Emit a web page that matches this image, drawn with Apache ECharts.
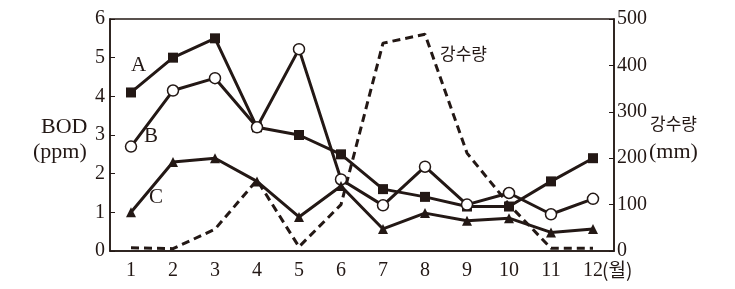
<!DOCTYPE html>
<html><head><meta charset="utf-8">
<script src="https://cdn.jsdelivr.net/npm/echarts@6/dist/echarts.min.js"></script>
<style>html,body{margin:0;padding:0;background:#fff}#c{width:735px;height:289px}</style>
</head><body><div id="c"></div>
<script>
const months = ['1','2','3','4','5','6','7','8','9','10','11','12'];
const seriesA = [4.1, 5.0, 5.5, 3.2, 3.0, 2.5, 1.6, 1.4, 1.15, 1.15, 1.8, 2.4];
const seriesB = [2.7, 4.15, 4.47, 3.2, 5.22, 1.85, 1.18, 2.18, 1.2, 1.5, 0.95, 1.35];
const seriesC = [1.0, 2.3, 2.4, 1.8, 0.88, 1.68, 0.57, 0.98, 0.78, 0.85, 0.48, 0.57];
const rainfall = [7, 5, 47, 153, 9, 100, 448, 467, 211, 100, 6, 6];
const bodTicks = [0, 1, 2, 3, 4, 5, 6];
const rainTicks = [0, 100, 200, 300, 400, 500];

const ink = '#231815';
const serif = '"Liberation Serif","DejaVu Serif",serif';
const kor = '"Noto Sans CJK KR","Noto Sans",sans-serif';
const chart = echarts.init(document.getElementById('c'));
const lineS = (name, data, symbol, size, fill) => ({
  name, type: 'line', data, yAxisIndex: 0, symbol, symbolSize: size,
  showAllSymbol: true, z: 3,
  lineStyle: { color: ink, width: 3 },
  itemStyle: { color: fill, borderColor: ink, borderWidth: fill === '#fff' ? 1.5 : 0 }
});
chart.setOption({
  animation: false,
  grid: { left: 110, right: 121, top: 19, bottom: 38, show: true, borderColor: ink, borderWidth: 1.5 },
  xAxis: {
    type: 'category', data: months, boundaryGap: true,
    axisLine: { lineStyle: { color: ink, width: 1.5 } },
    axisTick: { inside: true, length: 5, lineStyle: { color: ink, width: 1.2 } },
    axisLabel: { color: ink, fontFamily: serif, fontSize: 20, margin: 10 }
  },
  yAxis: [
    { type: 'value', min: bodTicks[0], max: bodTicks[bodTicks.length-1], interval: 1,
      splitLine: { show: false },
      axisLine: { show: true, lineStyle: { color: ink, width: 1.5 } },
      axisTick: { show: true, inside: true, length: 5, lineStyle: { color: ink } },
      axisLabel: { color: ink, fontFamily: serif, fontSize: 20, margin: 5 } },
    { type: 'value', min: rainTicks[0], max: rainTicks[rainTicks.length-1], interval: 100, position: 'right',
      splitLine: { show: false },
      axisLine: { show: true, lineStyle: { color: ink, width: 1.5 } },
      axisTick: { show: true, inside: true, length: 5, lineStyle: { color: ink } },
      axisLabel: { color: ink, fontFamily: serif, fontSize: 20, margin: 3 } }
  ],
  series: [
    { name: '강수량', type: 'line', data: rainfall, yAxisIndex: 1, symbol: 'none', z: 2,
      lineStyle: { color: ink, width: 3, type: [8, 5] } },
    lineS('A', seriesA, 'rect', 10, ink),
    lineS('B', seriesB, 'circle', 11, '#fff'),
    lineS('C', seriesC, 'triangle', 10, ink)
  ],
  graphic: [
    { type: 'text', left: 131, top: 55, style: { text: 'A', font: '21px ' + serif, fill: ink } },
    { type: 'text', left: 144, top: 126, style: { text: 'B', font: '21px ' + serif, fill: ink } },
    { type: 'text', left: 149, top: 187, style: { text: 'C', font: '21px ' + serif, fill: ink } },
    { type: 'text', left: 440, top: 45, style: { text: '강수량', font: '17px ' + kor, fill: ink } },
    { type: 'text', left: 41, top: 116, style: { text: 'BOD', font: '22px ' + serif, fill: ink } },
    { type: 'text', left: 33, top: 141, style: { text: '(ppm)', font: '22px ' + serif, fill: ink } },
    { type: 'text', left: 650, top: 115, style: { text: '강수량', font: '17px ' + kor, fill: ink } },
    { type: 'text', left: 649, top: 141, style: { text: '(mm)', font: '22px ' + serif, fill: ink } },
    { type: 'text', left: 602, top: 260, style: { text: '(월)', font: '19px ' + kor, fill: ink } }
  ]
});
</script></body></html>
